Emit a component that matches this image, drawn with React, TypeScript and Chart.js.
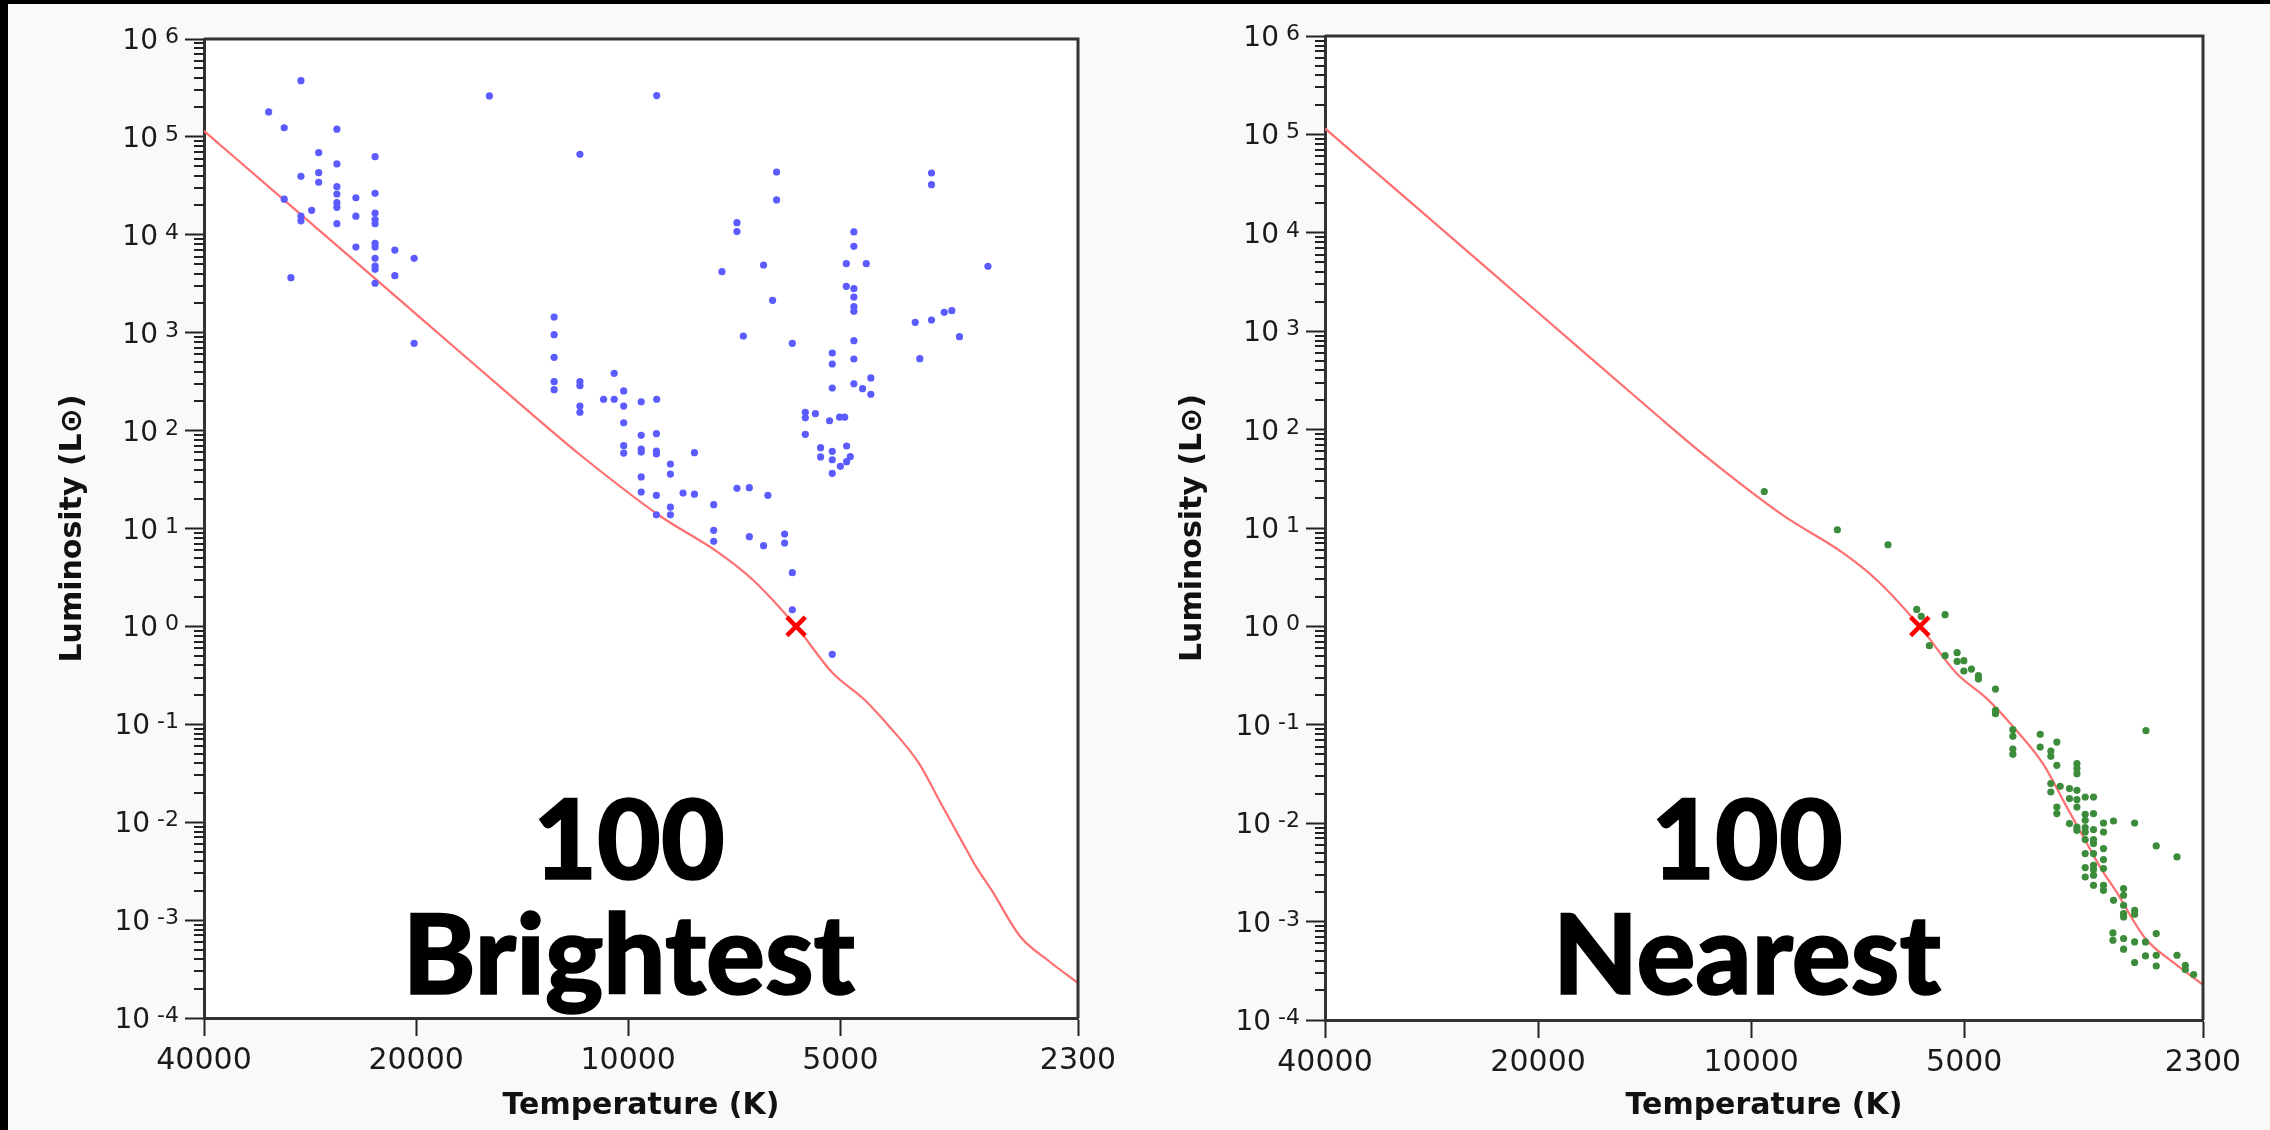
import React, { useEffect, useRef } from 'react';
import { Chart, registerables } from 'chart.js';

Chart.register(...registerables);

// ---------- axes ----------
const TEMP_TICKS = [40000, 20000, 10000, 5000, 2300];
const TEMP_MIN = 2300;
const TEMP_MAX = 40000;
const LUM_EXPONENTS = [-4, -3, -2, -1, 0, 1, 2, 3, 4, 5, 6];
const LUM_MIN = 1e-4;
const LUM_MAX = 1e6;
const X_TITLE = 'Temperature (K)';
const Y_TITLE = 'Luminosity (L\u2299)';

// ---------- Sun ----------
const SUN_T = [5778];
const SUN_L = [1];

// ---------- main sequence curve ----------
const MS_T = [40000, 30000, 20000, 13650, 11720, 9023, 7420, 6653, 5778, 5124, 4645, 4252, 3869, 3604, 3358, 3203, 3055, 2780, 2528, 2300];
const MS_L = [1.15e5, 1.93e4, 1549, 144, 57, 13.5, 5.58, 2.98, 1.0, 0.332, 0.1845, 0.0933, 0.0401, 0.0158, 0.0063, 0.00343, 0.00206, 6.85e-4, 3.8e-4, 2.28e-4];

// ---------- 100 brightest ----------
const BRIGHT_T = [
  29140, 32380, 30780, 25910, 15740, 27500, 25910, 22870, 29140, 27500, 27500, 25910, 25910, 25910, 25910, 25910,
  30780, 28140, 29140, 29140, 24350, 24350, 24350, 22870, 22870, 22870, 22870, 22870, 22870, 22870, 22870, 22870,
  22870, 21440, 21440, 20130, 30110, 20130, 11710, 12740, 12740, 12740, 12740, 12740, 11710, 11710, 11710, 11710,
  10470, 10840, 10470,
  9112, 6159, 6159, 3712, 3712, 7010, 7010, 4784, 4784, 4904, 4594, 3087, 7362, 6426, 6240, 4904,
  4784, 4784, 4784, 4784, 3561, 3474, 3712, 3915, 3388, 6865, 5850, 4784, 4784, 3857, 5134, 5134,
  5134, 4784, 4650, 4526, 4526, 10150, 10150, 9585, 9112, 5607, 5425,
  10150, 9585, 9121, 10150, 10150, 9585, 9585, 9121, 9121, 8055, 8713, 8713, 9585, 9585, 9121, 8360,
  8055, 8713, 8713, 9121, 7564, 7010, 6732, 6336, 7564, 7564, 6732, 6426, 5999, 5999, 5850, 5850,
  5134, 5607, 5180, 5013, 4930, 5607, 5334, 5334, 5134, 5134, 4899, 4841, 4899, 5000, 5134,
];
const BRIGHT_L = [
  3.75e5, 1.8e5, 1.24e5, 1.2e5, 2.62e5, 6.9e4, 5.29e4, 6.28e4, 3.96e4, 4.31e4, 3.44e4, 3.1e4, 2.61e4, 2.13e4, 1.91e4, 1.3e4,
  2.31e4, 1.78e4, 1.55e4, 1.39e4, 2.39e4, 1.55e4, 7500, 2.65e4, 1.67e4, 1.43e4, 1.3e4, 8190, 7500, 5750, 4800, 4440,
  3200, 6990, 3820, 5750, 3650, 779, 6.64e4, 1447, 954, 561, 316, 262, 316, 288, 178, 154,
  385, 209, 209,
  2.64e5, 4.38e4, 2.27e4, 4.28e4, 3.25e4, 1.33e4, 1.08e4, 1.07e4, 7630, 5070, 5070, 4770, 4200, 4915, 2143, 2979,
  2814, 2315, 1843, 1654, 1616, 1678, 1348, 1277, 910, 925, 779, 829, 539, 543, 620, 479,
  272, 301, 268, 345, 235, 254, 178, 197, 209, 154, 149,
  120, 89.5, 93, 70.1, 59.0, 64.9, 60.4, 61.9, 57.7, 59.5, 45.6, 36.0, 33.6, 23.6, 21.8, 23.0,
  22.4, 16.5, 13.8, 13.8, 17.5, 25.7, 26.1, 21.8, 9.59, 7.4, 8.25, 6.67, 8.78, 7.11, 3.54, 1.48,
  0.519, 135, 126, 137, 137, 91.7, 66.9, 53.8, 61.4, 50.4, 69.6, 54.1, 48.1, 43.2, 36.6,
];

// ---------- 100 nearest ----------
const NEAR_T = [
  9584, 7556, 6408, 5836, 5750, 5322, 5601, 5322, 5118, 5118, 5007, 5007, 4885, 4775, 4775, 4517,
  4517, 4517, 4269, 4269, 4269, 4269, 3906, 3906, 3700, 3773, 3773, 2769, 3700, 3466, 3466, 3466,
  3773, 3773, 3660, 3551, 3466, 3551, 3466, 3466, 3374, 3284, 3700, 3700, 3374, 3284, 3374, 3551,
  3466, 3466, 3374, 3374, 3284, 3179, 3179, 3077, 2873, 3374, 3284, 3284, 3374, 3284, 3179, 3179,
  3284, 3284, 3374, 3179, 3374, 3284, 3284, 3179, 3179, 3077, 2978, 2978, 2978, 2978, 2978, 2873,
  2873, 2678, 2503, 3083, 3083, 2978, 2978, 2873, 2773, 2678, 2773, 2678, 2873, 2678, 2503, 2436,
  2436, 2371,
];
const NEAR_L = [
  23.5, 9.6, 6.76, 1.488, 1.264, 1.315, 0.637, 0.504, 0.541, 0.441, 0.448, 0.352, 0.368, 0.3155, 0.2915, 0.2307,
  0.1402, 0.1298, 0.0893, 0.0763, 0.0567, 0.0501, 0.08, 0.0594, 0.0668, 0.0541, 0.0478, 0.0872, 0.0387, 0.0403, 0.0359, 0.0319,
  0.02525, 0.02075, 0.0237, 0.02246, 0.0216, 0.01778, 0.01737, 0.0146, 0.01846, 0.01846, 0.0146, 0.01252, 0.01232, 0.01252, 0.0107, 0.00991,
  0.00915, 0.00847, 0.00902, 0.00814, 0.00861, 0.01005, 0.00814, 0.01053, 0.01005, 0.00681, 0.00681, 0.00621, 0.00491, 0.00491, 0.00552, 0.00427,
  0.00374, 0.00338, 0.00354, 0.00346, 0.00284, 0.00296, 0.00234, 0.00234, 0.00208, 0.001647, 0.002166, 0.001852, 0.001466, 0.001207, 0.001115, 0.001304,
  0.001188, 0.00587, 0.00454, 0.000767, 0.000646, 0.000673, 0.000524, 0.000621, 0.000621, 0.000756, 0.000448, 0.000455, 0.000384, 0.000354, 0.000455, 0.00036,
  0.000326, 0.00029,
];

const FONT = '"DejaVu Sans", Verdana, sans-serif';

const pairs = (xs: number[], ys: number[]) => xs.map((x, i) => ({ x, y: ys[i] }));

const framePlugin = {
  id: 'hrFrame',
  beforeDraw(chart: any) {
    const { ctx, chartArea: a } = chart;
    ctx.save();
    ctx.fillStyle = '#ffffff';
    ctx.fillRect(a.left, a.top, a.right - a.left, a.bottom - a.top);
    ctx.restore();
  },
  afterDraw(chart: any) {
    const { ctx, chartArea: a } = chart;
    const ys = chart.scales.y;
    ctx.save();
    // minor ticks on the luminosity axis
    ctx.strokeStyle = '#222';
    ctx.lineWidth = 2;
    ctx.beginPath();
    for (let e = LUM_EXPONENTS[0]; e < LUM_EXPONENTS[LUM_EXPONENTS.length - 1]; e++) {
      for (let k = 2; k <= 9; k++) {
        const py = Math.round(ys.getPixelForValue(k * Math.pow(10, e)));
        ctx.moveTo(a.left - 10, py);
        ctx.lineTo(a.left, py);
      }
    }
    ctx.stroke();
    // top and right frame
    ctx.strokeStyle = '#333';
    ctx.lineWidth = 3;
    ctx.beginPath();
    ctx.moveTo(a.left, a.top);
    ctx.lineTo(a.right, a.top);
    ctx.lineTo(a.right, a.bottom);
    ctx.stroke();
    // power-of-ten labels
    ctx.fillStyle = '#1a1a1a';
    ctx.textAlign = 'right';
    ctx.textBaseline = 'alphabetic';
    for (const e of LUM_EXPONENTS) {
      const py = ys.getPixelForValue(Math.pow(10, e));
      const expStr = e < 0 ? '-' + Math.abs(e) : String(e);
      const xr = a.left - 25;
      ctx.font = `22px ${FONT}`;
      ctx.fillText(expStr, xr, py + 4);
      const w = ctx.measureText(expStr).width;
      ctx.font = `28px ${FONT}`;
      ctx.fillText('10', xr - w - 7, py + 10);
    }
    ctx.restore();
  },
};

type Cfg = {
  starsT: number[];
  starsL: number[];
  color: string;
  padTop: number;
  padRight: number;
  yWidth: number;
  xHeight: number;
  yTitlePad: number;
};

function makeChart(canvas: HTMLCanvasElement, cfg: Cfg) {
  return new Chart(canvas, {
    type: 'scatter',
    data: {
      datasets: [
        {
          data: pairs(SUN_T, SUN_L),
          pointStyle: 'crossRot',
          pointRadius: 13,
          pointBorderWidth: 4.5,
          borderColor: '#ff0000',
          backgroundColor: '#ff0000',
        } as any,
        {
          data: pairs(cfg.starsT, cfg.starsL),
          pointRadius: 3.6,
          pointBorderWidth: 0,
          backgroundColor: cfg.color,
          borderColor: cfg.color,
        },
        {
          data: pairs(MS_T, MS_L),
          showLine: true,
          pointRadius: 0,
          borderColor: '#ff6f6f',
          borderWidth: 2.2,
          cubicInterpolationMode: 'monotone',
          fill: false,
        } as any,
      ],
    },
    options: {
      responsive: false,
      animation: false,
      devicePixelRatio: 1,
      layout: { padding: { left: 0, top: cfg.padTop, right: cfg.padRight, bottom: 0 } },
      plugins: { legend: { display: false }, tooltip: { enabled: false } },
      scales: {
        x: {
          type: 'logarithmic',
          min: TEMP_MIN,
          max: TEMP_MAX,
          reverse: true,
          afterBuildTicks: (s: any) => {
            s.ticks = TEMP_TICKS.map((v) => ({ value: v }));
          },
          afterFit: (s: any) => {
            s.height = cfg.xHeight;
          },
          grid: { drawOnChartArea: false, drawTicks: true, tickLength: 18, tickWidth: 2, tickColor: '#222' },
          border: { display: true, color: '#333', width: 3 },
          ticks: {
            autoSkip: false,
            maxRotation: 0,
            minRotation: 0,
            padding: 7,
            color: '#1a1a1a',
            font: { family: FONT, size: 30 },
            callback: (v: any) => String(v),
          },
          title: {
            display: true,
            text: X_TITLE,
            color: '#111',
            font: { family: FONT, size: 30, weight: 'bold' },
            padding: { top: 0, bottom: 6 },
          },
        } as any,
        y: {
          type: 'logarithmic',
          min: LUM_MIN,
          max: LUM_MAX,
          afterBuildTicks: (s: any) => {
            s.ticks = LUM_EXPONENTS.map((e) => ({ value: Math.pow(10, e) }));
          },
          afterFit: (s: any) => {
            s.width = cfg.yWidth;
          },
          grid: { drawOnChartArea: false, drawTicks: true, tickLength: 19, tickWidth: 2, tickColor: '#222' },
          border: { display: true, color: '#333', width: 3 },
          ticks: { display: false },
          title: {
            display: true,
            text: Y_TITLE,
            color: '#111',
            font: { family: FONT, size: 30, weight: 'bold' },
            padding: { top: cfg.yTitlePad, bottom: 0 },
          },
        } as any,
      },
    },
    plugins: [framePlugin],
  });
}

const overlayStyle = (cx: number): React.CSSProperties => ({
  position: 'absolute',
  left: cx - 400,
  top: 779,
  width: 800,
  textAlign: 'center',
  fontFamily: 'Lato, "Open Sans", sans-serif',
  fontWeight: 900,
  fontSize: 110,
  lineHeight: '115px',
  color: '#000',
  WebkitTextStroke: '1.5px #000',
  pointerEvents: 'none',
});

export default function App() {
  const leftRef = useRef<HTMLCanvasElement>(null);
  const rightRef = useRef<HTMLCanvasElement>(null);

  useEffect(() => {
    const c1 = makeChart(leftRef.current!, {
      starsT: BRIGHT_T,
      starsL: BRIGHT_L,
      color: '#5b5bff',
      padTop: 39,
      padRight: 57,
      yWidth: 204,
      xHeight: 112,
      yTitlePad: 55,
    });
    const c2 = makeChart(rightRef.current!, {
      starsT: NEAR_T,
      starsL: NEAR_L,
      color: '#3c8c3c',
      padTop: 36,
      padRight: 67,
      yWidth: 190,
      xHeight: 110,
      yTitlePad: 40,
    });
    return () => {
      c1.destroy();
      c2.destroy();
    };
  }, []);

  return (
    <div style={{ position: 'absolute', left: 0, top: 0, width: 2270, height: 1130, background: '#f9f9f9', overflow: 'hidden' }}>
      <canvas ref={leftRef} width={1135} height={1130} style={{ position: 'absolute', left: 0, top: 0 }} />
      <canvas ref={rightRef} width={1135} height={1130} style={{ position: 'absolute', left: 1135, top: 0 }} />
      <div style={{ position: 'absolute', left: 0, top: 0, width: 2270, height: 4, background: '#000' }} />
      <div style={{ position: 'absolute', left: 0, top: 0, width: 8, height: 1130, background: '#000' }} />
      <div style={overlayStyle(629)}>
        100
        <br />
        Brightest
      </div>
      <div style={overlayStyle(1747)}>
        100
        <br />
        Nearest
      </div>
    </div>
  );
}
